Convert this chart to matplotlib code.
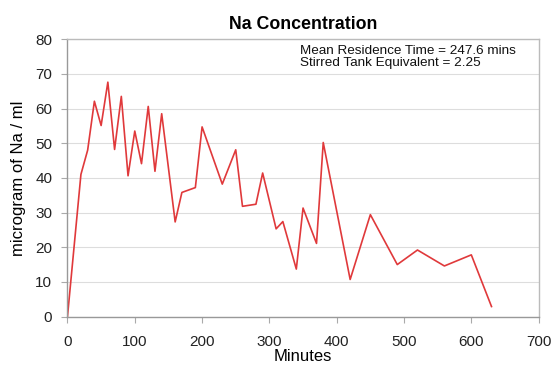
import matplotlib
matplotlib.use("Agg")
import matplotlib.pyplot as plt

plt.rcParams['font.family'] = ['Liberation Sans', 'DejaVu Sans']

# Sample times (minutes) and sodium concentration (microgram / ml)
minutes = [0, 20, 30, 40, 50, 60, 70, 80, 90, 100, 110, 120, 130, 140,
           160, 170, 190, 200, 230, 250, 260, 280, 290, 310, 320, 340,
           350, 370, 380, 420, 450, 490, 520, 560, 600, 630]
na_conc = [0, 41.0, 48.0, 62.1, 55.1, 67.6, 48.2, 63.5, 40.6, 53.5, 44.1,
           60.6, 41.9, 58.5, 27.3, 35.8, 37.2, 54.7, 38.2, 48.1, 31.8, 32.4,
           41.4, 25.3, 27.4, 13.7, 31.3, 21.1, 50.2, 10.7, 29.4, 15.0, 19.2,
           14.6, 17.8, 2.9]

x_ticks = [0, 100, 200, 300, 400, 500, 600, 700]
y_ticks = [0, 10, 20, 30, 40, 50, 60, 70, 80]
info_lines = ["Mean Residence Time = 247.6 mins",
              "Stirred Tank Equivalent = 2.25"]

fig = plt.figure(figsize=(5.53, 3.66), dpi=100)
ax = fig.add_axes([0.122, 0.135, 0.852, 0.758])

ax.plot(minutes, na_conc, color='#e0393b', linewidth=1.2)

ax.set_xlim(0, 700)
ax.set_ylim(0, 80)
ax.set_xticks(x_ticks)
ax.set_yticks(y_ticks)
ax.tick_params(axis='both', labelsize=11, length=4, width=0.8,
               color='#aaaaaa', labelcolor='#222222')
ax.tick_params(axis='x', pad=9)
ax.tick_params(axis='y', pad=7)

ax.grid(axis='y', color='#dddddd', linewidth=0.8)
ax.set_axisbelow(True)
for side in ['top', 'right']:
    ax.spines[side].set_color('#bbbbbb')
    ax.spines[side].set_linewidth(1.0)
for side in ['bottom', 'left']:
    ax.spines[side].set_color('#999999')
    ax.spines[side].set_linewidth(1.0)

ax.set_xlabel("Minutes", fontsize=12)
ax.set_ylabel("microgram of Na / ml", fontsize=12)
ax.xaxis.set_label_coords(0.5, -0.118)
ax.yaxis.set_label_coords(-0.088, 0.5)
ax.set_title("Na Concentration", fontsize=12.8, fontweight='bold', pad=7)

ax.text(0.493, 0.978, "\n".join(info_lines), transform=ax.transAxes,
        ha='left', va='top', fontsize=9.7, linespacing=1.0, color='#111111')

fig.savefig("out.png", dpi=100)
